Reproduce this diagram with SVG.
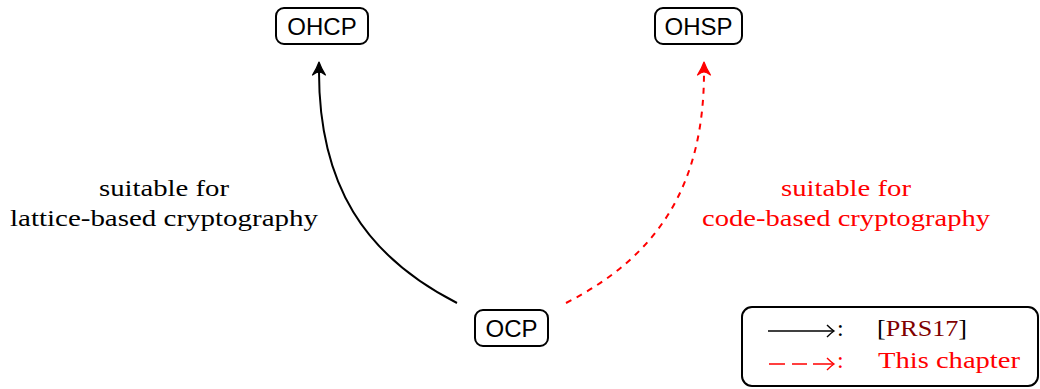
<svg xmlns="http://www.w3.org/2000/svg" width="1040" height="389" viewBox="0 0 1040 389">
<style>
.box{fill:#fff;stroke:#000;stroke-width:2}
.nt{font-family:"Liberation Sans",Arial,sans-serif;font-size:24px;text-anchor:middle;fill:#000}
.st{font-family:"Liberation Serif","Times New Roman",serif;font-size:24px;text-anchor:middle}
.lt{font-family:"Liberation Serif","Times New Roman",serif;font-size:24px}
.edge{fill:none;stroke-width:2}
.head{stroke-width:1.2;stroke-linejoin:round}
</style>
<defs>
<path id="ah" d="M0,0 Q2.5,7 6.5,13 Q2.5,10 0,10 Q-2.5,10 -6.5,13 Q-2.5,7 0,0 Z"/>
</defs>
<rect width="1040" height="389" fill="#fff"/>
<g id="connectors">
<path class="edge" d="M457,303 C365,256 318,185 319,68" stroke="#000"/>
<use href="#ah" x="319" y="62" fill="#000" stroke="#000" class="head"/>
<path class="edge" d="M566,303 C658,256 705,185 704,68" stroke="#f00" stroke-dasharray="6,6"/>
<use href="#ah" x="704" y="62" fill="#f00" stroke="#f00" class="head"/>
</g>
<g id="OHCP">
<rect class="box" x="276" y="8" width="92" height="36" rx="8"/>
<text class="nt" x="322" y="35">OHCP</text>
</g>
<g id="OHSP">
<rect class="box" x="655" y="8" width="87" height="36" rx="8"/>
<text class="nt" x="698.5" y="35">OHSP</text>
</g>
<g id="OCP">
<rect class="box" x="475" y="310" width="73" height="36" rx="8"/>
<text class="nt" x="511.5" y="337">OCP</text>
</g>
<g id="label-lattice">
<text class="st" x="164" y="196" fill="#000" textLength="130" lengthAdjust="spacingAndGlyphs">suitable for</text>
<text class="st" x="164" y="226" fill="#000" textLength="308" lengthAdjust="spacingAndGlyphs">lattice-based cryptography</text>
</g>
<g id="label-code">
<text class="st" x="846" y="196" fill="#f00" textLength="130" lengthAdjust="spacingAndGlyphs">suitable for</text>
<text class="st" x="846" y="226" fill="#f00" textLength="288" lengthAdjust="spacingAndGlyphs">code-based cryptography</text>
</g>
<g id="legend">
<rect class="box" x="742" y="307" width="296" height="79" rx="10"/>
<line x1="768" y1="331" x2="833" y2="331" stroke="#000" stroke-width="1.4"/>
<path d="M827,325 Q831,329 834,331 Q831,333 827,337" fill="none" stroke="#000" stroke-width="1.4"/>
<text class="lt" x="837" y="336" fill="#000">:</text>
<text class="lt" x="877" y="336" fill="#000" textLength="90" lengthAdjust="spacingAndGlyphs">[<tspan fill="#800000">PRS17</tspan>]</text>
<path d="M769,364 H785 M792,364 H807 M813,364 H833" fill="none" stroke="#f00" stroke-width="1.4"/>
<path d="M827,358 Q831,362 834,364 Q831,366 827,370" fill="none" stroke="#f00" stroke-width="1.4"/>
<text class="lt" x="837" y="368" fill="#f00">:</text>
<text class="lt" x="878" y="368" fill="#f00" textLength="142" lengthAdjust="spacingAndGlyphs">This chapter</text>
</g>
</svg>
